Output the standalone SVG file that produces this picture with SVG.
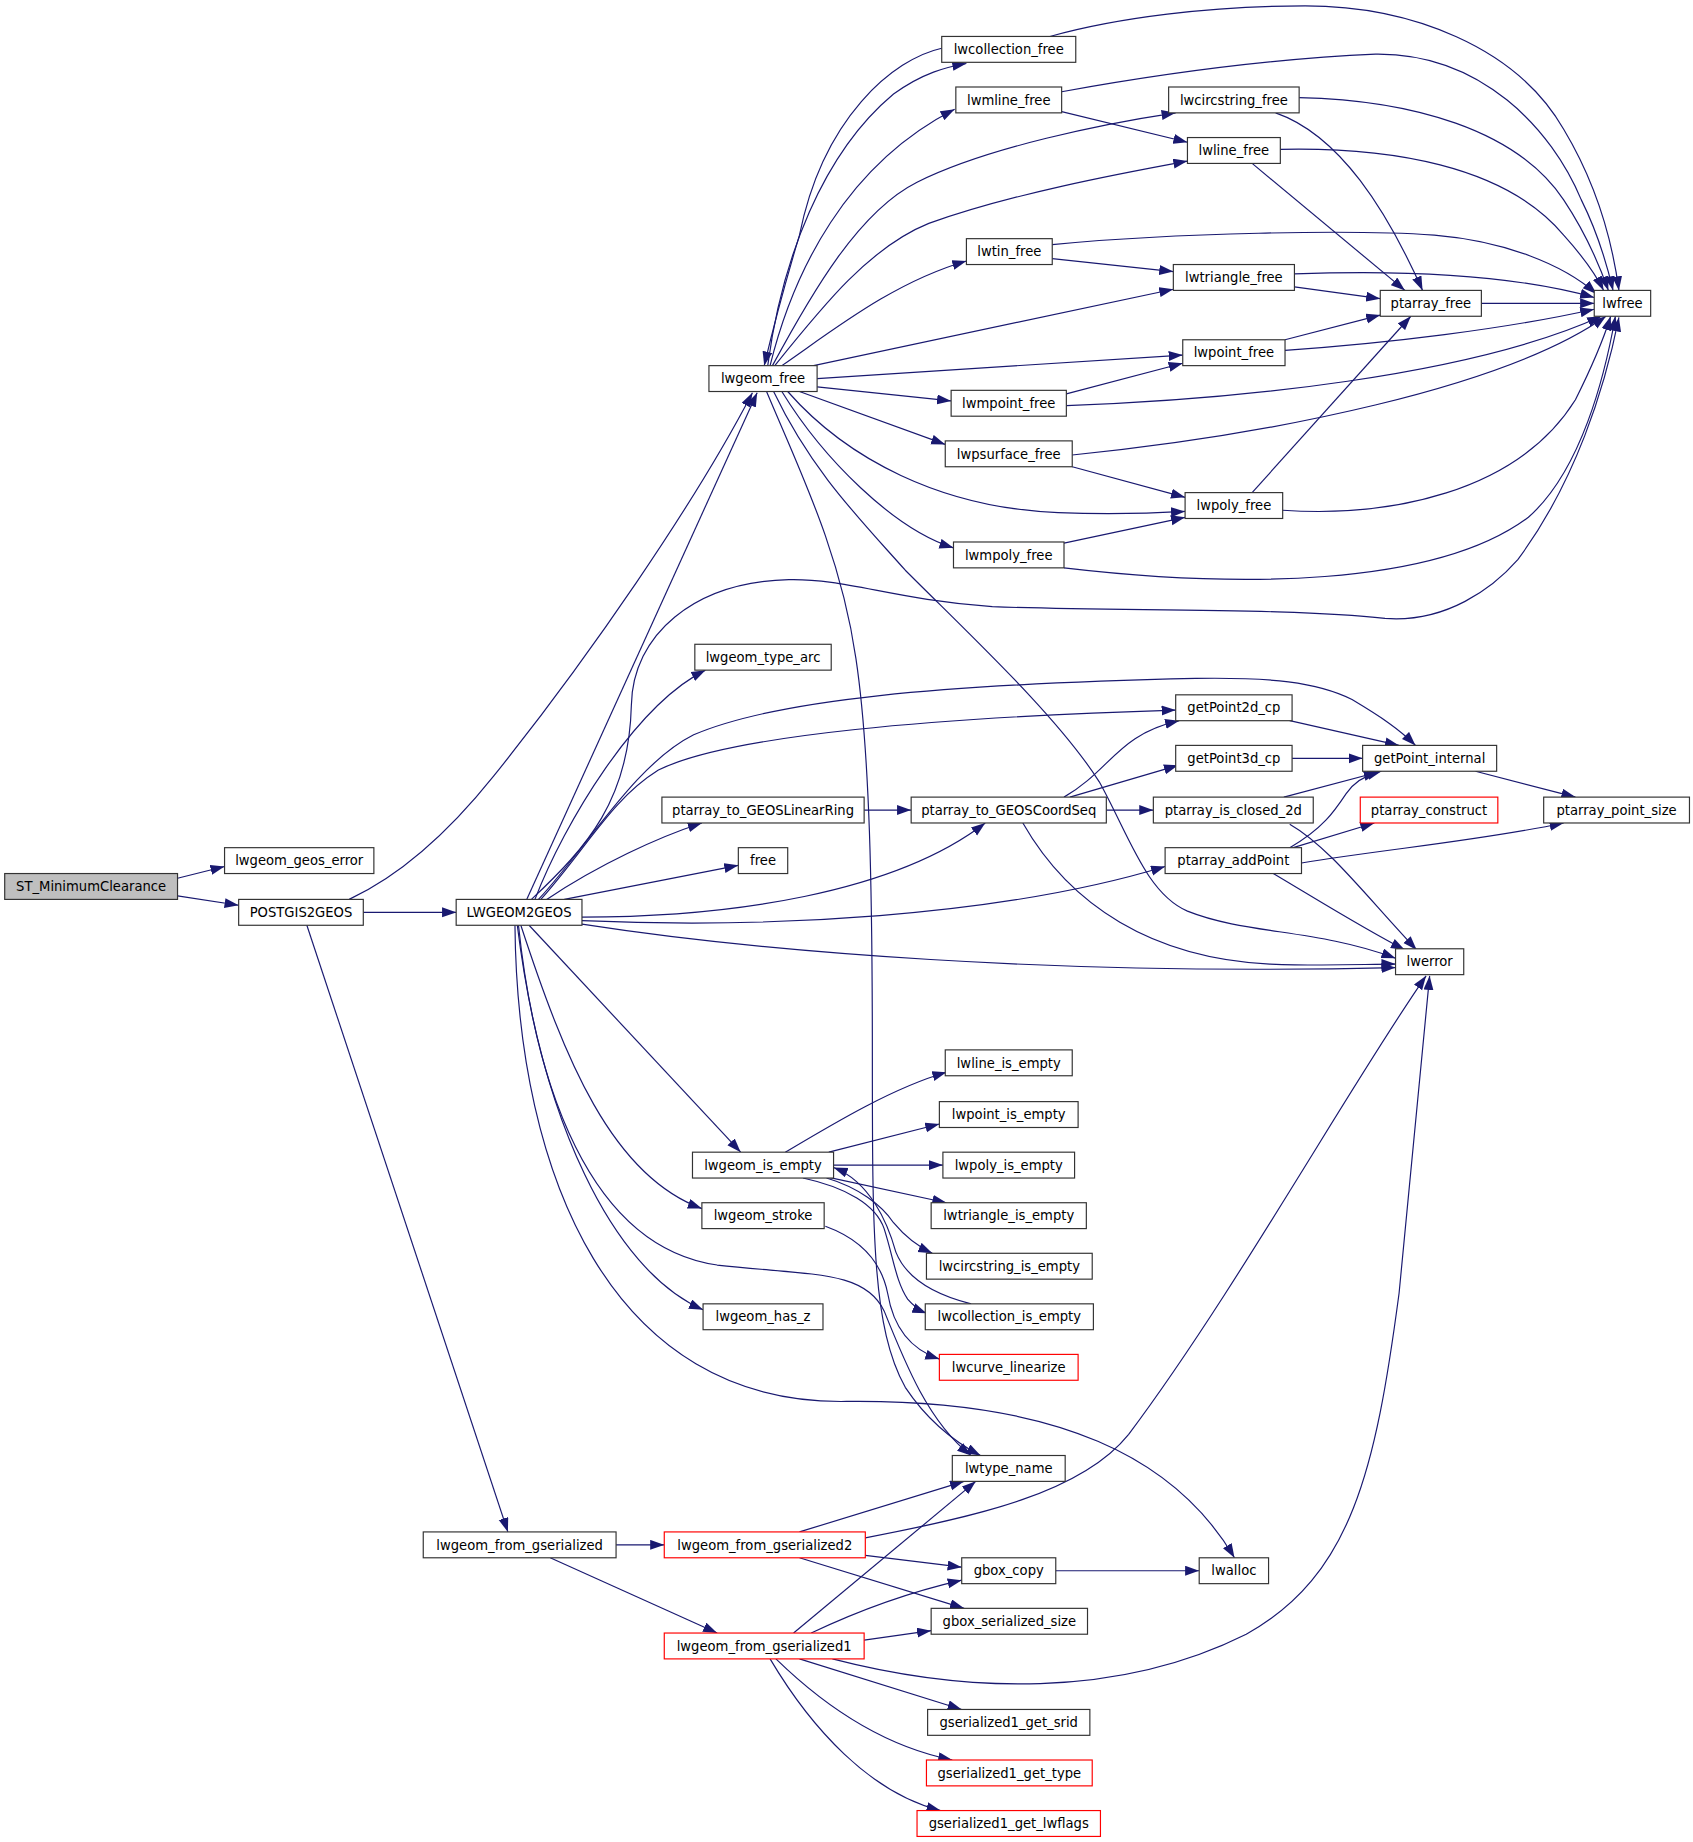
<svg xmlns="http://www.w3.org/2000/svg" width="1693" height="1842" viewBox="0 0 1693 1842">
<style>
.n rect{fill:#fff;stroke:#333;stroke-width:1}
.n.r rect{stroke:#ff0000}
.n.g rect{fill:#bfbfbf}
.n text{font-family:"DejaVu Sans","Liberation Sans",sans-serif;font-size:11.2px;text-anchor:middle;fill:#000}
.e path{fill:none;stroke:#191970;stroke-width:1;marker-end:url(#a)}
</style>
<defs>
<marker id="a" markerUnits="userSpaceOnUse" markerWidth="12" markerHeight="9" refX="12" refY="4.25" orient="auto">
<path d="M0,0 L12,4.25 L0,8.5 z" fill="#191970"/>
</marker>
</defs>
<rect width="1693" height="1842" fill="#fff"/>
<g transform="scale(1.17569)">
<g id="edges" class="e">
<path d="M151,747 L191,737"/>
<path d="M151,762 L203,770"/>
<path d="M297,765 C340,745 380,710 420,660 C500,560 590,430 640,334"/>
<path d="M309,776 L388,776"/>
<path d="M261,787 L432,1303"/>
<path d="M448,765 L644,334"/>
<path d="M452,765 C500,720 535,680 537,600 C538,540 590,495 671,493 C720,492 760,510 844,516 C950,520 1100,517 1178,526 C1230,530 1270,500 1291,476 C1340,410 1365,330 1377,270"/>
<path d="M455,765 C480,700 540,600 600,570"/>
<path d="M458,765 C500,720 540,650 590,625 C660,595 800,582 1017,577 C1080,576 1120,580 1150,595 C1175,610 1190,620 1204,634"/>
<path d="M460,765 C500,720 520,680 560,655 C620,625 800,610 1000,604"/>
<path d="M465,765 C510,735 560,712 597,700"/>
<path d="M480,765 L628,736"/>
<path d="M495,780 C620,780 760,760 838,700"/>
<path d="M495,783 C650,790 850,780 991,737"/>
<path d="M495,786 C650,810 900,830 1187,823"/>
<path d="M450,787 L630,980"/>
<path d="M443,787 C480,900 520,1000 597,1028"/>
<path d="M440,787 C460,950 520,1080 598,1114"/>
<path d="M441,787 C455,920 500,1060 610,1076 C690,1085 735,1080 752,1115 C770,1160 790,1210 826,1238"/>
<path d="M438,787 C440,1000 520,1195 720,1192 C900,1190 1000,1240 1050,1325"/>
<path d="M653,311 C665,220 700,130 760,80 C785,62 805,57 822,54"/>
<path d="M801,41 C760,50 700,100 680,200 C665,250 655,290 650,311"/>
<path d="M655,311 C675,230 720,140 812,93"/>
<path d="M657,311 C690,250 730,180 780,155 C840,125 940,105 1000,96"/>
<path d="M659,311 C700,260 740,210 790,190 C860,165 950,148 1010,137"/>
<path d="M665,311 C710,280 760,240 822,222"/>
<path d="M692,311 L998,246"/>
<path d="M695,322 L1006,302"/>
<path d="M695,329 L809,341"/>
<path d="M680,333 L804,378"/>
<path d="M670,333 C720,390 800,432 900,436 C950,438 990,436 1008,435"/>
<path d="M665,333 C700,390 760,450 811,466"/>
<path d="M652,333 C680,400 715,470 728,560 C740,640 742,760 742,900 C742,1050 742,1130 770,1180 C790,1210 815,1228 834,1238"/>
<path d="M658,333 C690,400 730,440 770,485 C830,545 900,610 935,665 C960,710 975,760 1010,775 C1060,795 1120,790 1187,815"/>
<path d="M893,31 C950,15 1030,5 1110,5 C1200,5 1290,40 1330,110 C1360,160 1372,210 1377,247"/>
<path d="M903,95 L1010,121"/>
<path d="M903,78 C980,64 1080,50 1170,46 C1260,45 1320,110 1345,170 C1360,200 1368,230 1372,247"/>
<path d="M1105,83 C1200,85 1290,110 1330,170 C1350,200 1362,230 1368,247"/>
<path d="M1085,96 C1140,115 1180,180 1210,247"/>
<path d="M1089,127 C1180,125 1280,140 1330,200 C1348,220 1358,235 1364,247"/>
<path d="M1065,139 L1195,247"/>
<path d="M895,220 L998,231"/>
<path d="M895,208 C1000,198 1150,195 1220,200 C1280,205 1330,225 1358,250"/>
<path d="M1101,244 L1174,254"/>
<path d="M1101,233 C1180,230 1280,232 1356,253"/>
<path d="M1260,258 L1356,258"/>
<path d="M1093,289 L1174,268"/>
<path d="M1093,298 C1180,292 1280,280 1356,263"/>
<path d="M907,335 L1006,309"/>
<path d="M907,345 C1050,340 1250,320 1362,269"/>
<path d="M912,397 L1008,423"/>
<path d="M912,387 C1080,370 1280,330 1366,269"/>
<path d="M1065,419 L1200,269"/>
<path d="M1091,434 C1180,440 1290,420 1340,340 C1355,310 1365,285 1370,269"/>
<path d="M905,462 L1008,440"/>
<path d="M905,483 C1050,500 1220,500 1300,440 C1345,400 1365,320 1374,269"/>
<path d="M1097,613 L1190,634"/>
<path d="M1099,645 L1159,645"/>
<path d="M1255,656 L1340,678"/>
<path d="M735,689 L775,689"/>
<path d="M905,678 C945,655 950,625 1003,613"/>
<path d="M910,678 L1002,651"/>
<path d="M941,689 L981,689"/>
<path d="M870,700 C910,770 980,815 1080,820 C1130,822 1160,820 1187,820"/>
<path d="M1092,678 L1175,656"/>
<path d="M1097,701 C1130,720 1160,760 1205,808"/>
<path d="M1097,721 C1125,705 1135,690 1145,675 C1152,665 1160,660 1172,657"/>
<path d="M1100,721 L1169,700"/>
<path d="M1107,734 C1180,722 1260,715 1330,700"/>
<path d="M1083,743 C1120,765 1160,790 1195,808"/>
<path d="M668,980 C710,955 760,925 805,912"/>
<path d="M705,980 L799,956"/>
<path d="M709,991 L802,991"/>
<path d="M703,1001 L805,1023"/>
<path d="M703,1002 C730,1010 750,1025 760,1040 C770,1052 780,1060 793,1066"/>
<path d="M683,1002 C720,1010 745,1025 752,1045 C760,1070 762,1090 772,1105 C778,1112 783,1115 788,1117"/>
<path d="M826,1109 C790,1100 770,1085 762,1065 C755,1040 740,1005 709,993"/>
<path d="M702,1043 C735,1055 750,1075 755,1100 C760,1130 775,1148 799,1156"/>
<path d="M524,1314 L565,1314"/>
<path d="M468,1325 L610,1389"/>
<path d="M680,1303 L820,1260"/>
<path d="M736,1308 C830,1290 920,1270 960,1220 C1050,1100 1150,920 1213,830"/>
<path d="M736,1323 L818,1333"/>
<path d="M680,1325 L820,1368"/>
<path d="M675,1389 L830,1260"/>
<path d="M690,1389 C730,1370 770,1355 818,1344"/>
<path d="M735,1395 L792,1387"/>
<path d="M708,1411 C820,1440 950,1445 1060,1390 C1150,1340 1170,1250 1190,1100 C1200,1000 1210,900 1216,830"/>
<path d="M680,1411 L818,1454"/>
<path d="M660,1411 C700,1450 750,1485 810,1497"/>
<path d="M655,1411 C690,1470 740,1525 800,1540"/>
<path d="M898,1336 L1020,1336"/>
</g>
<g id="n_ST_MinimumClearance" class="n g"><rect x="4" y="743" width="147" height="22"/><text x="77.5" y="758">ST_MinimumClearance</text></g>
<g id="n_lwgeom_geos_error" class="n"><rect x="191" y="721" width="127" height="22"/><text x="254.5" y="736">lwgeom_geos_error</text></g>
<g id="n_POSTGIS2GEOS" class="n"><rect x="203" y="765" width="106" height="22"/><text x="256" y="780">POSTGIS2GEOS</text></g>
<g id="n_LWGEOM2GEOS" class="n"><rect x="388" y="765" width="107" height="22"/><text x="441.5" y="780">LWGEOM2GEOS</text></g>
<g id="n_lwgeom_free" class="n"><rect x="603" y="311" width="92" height="22"/><text x="649" y="326">lwgeom_free</text></g>
<g id="n_lwcollection_free" class="n"><rect x="801" y="31" width="114" height="22"/><text x="858" y="46">lwcollection_free</text></g>
<g id="n_lwmline_free" class="n"><rect x="813" y="74" width="90" height="22"/><text x="858" y="89">lwmline_free</text></g>
<g id="n_lwcircstring_free" class="n"><rect x="994" y="74" width="111" height="22"/><text x="1049.5" y="89">lwcircstring_free</text></g>
<g id="n_lwline_free" class="n"><rect x="1010" y="117" width="79" height="22"/><text x="1049.5" y="132">lwline_free</text></g>
<g id="n_lwtin_free" class="n"><rect x="822" y="203" width="73" height="22"/><text x="858.5" y="218">lwtin_free</text></g>
<g id="n_lwtriangle_free" class="n"><rect x="998" y="225" width="103" height="22"/><text x="1049.5" y="240">lwtriangle_free</text></g>
<g id="n_ptarray_free" class="n"><rect x="1174" y="247" width="86" height="22"/><text x="1217" y="262">ptarray_free</text></g>
<g id="n_lwfree" class="n"><rect x="1356" y="247" width="48" height="22"/><text x="1380" y="262">lwfree</text></g>
<g id="n_lwpoint_free" class="n"><rect x="1006" y="289" width="87" height="22"/><text x="1049.5" y="304">lwpoint_free</text></g>
<g id="n_lwmpoint_free" class="n"><rect x="809" y="332" width="98" height="22"/><text x="858" y="347">lwmpoint_free</text></g>
<g id="n_lwpsurface_free" class="n"><rect x="804" y="375" width="108" height="22"/><text x="858" y="390">lwpsurface_free</text></g>
<g id="n_lwpoly_free" class="n"><rect x="1008" y="419" width="83" height="22"/><text x="1049.5" y="434">lwpoly_free</text></g>
<g id="n_lwmpoly_free" class="n"><rect x="811" y="461" width="94" height="22"/><text x="858" y="476">lwmpoly_free</text></g>
<g id="n_lwgeom_type_arc" class="n"><rect x="591" y="548" width="116" height="22"/><text x="649" y="563">lwgeom_type_arc</text></g>
<g id="n_getPoint2d_cp" class="n"><rect x="1000" y="591" width="99" height="22"/><text x="1049.5" y="606">getPoint2d_cp</text></g>
<g id="n_getPoint3d_cp" class="n"><rect x="1000" y="634" width="99" height="22"/><text x="1049.5" y="649">getPoint3d_cp</text></g>
<g id="n_getPoint_internal" class="n"><rect x="1159" y="634" width="114" height="22"/><text x="1216" y="649">getPoint_internal</text></g>
<g id="n_ptarray_point_size" class="n"><rect x="1313" y="678" width="124" height="22"/><text x="1375" y="693">ptarray_point_size</text></g>
<g id="n_ptarray_to_GEOSLinearRing" class="n"><rect x="563" y="678" width="172" height="22"/><text x="649" y="693">ptarray_to_GEOSLinearRing</text></g>
<g id="n_ptarray_to_GEOSCoordSeq" class="n"><rect x="775" y="678" width="166" height="22"/><text x="858" y="693">ptarray_to_GEOSCoordSeq</text></g>
<g id="n_ptarray_is_closed_2d" class="n"><rect x="981" y="678" width="136" height="22"/><text x="1049" y="693">ptarray_is_closed_2d</text></g>
<g id="n_ptarray_construct" class="n r"><rect x="1157" y="678" width="117" height="22"/><text x="1215.5" y="693">ptarray_construct</text></g>
<g id="n_free" class="n"><rect x="628" y="721" width="42" height="22"/><text x="649" y="736">free</text></g>
<g id="n_ptarray_addPoint" class="n"><rect x="991" y="721" width="116" height="22"/><text x="1049" y="736">ptarray_addPoint</text></g>
<g id="n_lwerror" class="n"><rect x="1187" y="807" width="58" height="22"/><text x="1216" y="822">lwerror</text></g>
<g id="n_lwline_is_empty" class="n"><rect x="804" y="893" width="108" height="22"/><text x="858" y="908">lwline_is_empty</text></g>
<g id="n_lwpoint_is_empty" class="n"><rect x="799" y="937" width="118" height="22"/><text x="858" y="952">lwpoint_is_empty</text></g>
<g id="n_lwgeom_is_empty" class="n"><rect x="589" y="980" width="120" height="22"/><text x="649" y="995">lwgeom_is_empty</text></g>
<g id="n_lwpoly_is_empty" class="n"><rect x="802" y="980" width="112" height="22"/><text x="858" y="995">lwpoly_is_empty</text></g>
<g id="n_lwtriangle_is_empty" class="n"><rect x="792" y="1023" width="132" height="22"/><text x="858" y="1038">lwtriangle_is_empty</text></g>
<g id="n_lwgeom_stroke" class="n"><rect x="597" y="1023" width="104" height="22"/><text x="649" y="1038">lwgeom_stroke</text></g>
<g id="n_lwcircstring_is_empty" class="n"><rect x="788" y="1066" width="141" height="22"/><text x="858.5" y="1081">lwcircstring_is_empty</text></g>
<g id="n_lwcollection_is_empty" class="n"><rect x="787" y="1109" width="143" height="22"/><text x="858.5" y="1124">lwcollection_is_empty</text></g>
<g id="n_lwgeom_has_z" class="n"><rect x="598" y="1109" width="102" height="22"/><text x="649" y="1124">lwgeom_has_z</text></g>
<g id="n_lwcurve_linearize" class="n r"><rect x="799" y="1152" width="118" height="22"/><text x="858" y="1167">lwcurve_linearize</text></g>
<g id="n_lwtype_name" class="n"><rect x="810" y="1238" width="96" height="22"/><text x="858" y="1253">lwtype_name</text></g>
<g id="n_lwgeom_from_gserialized" class="n"><rect x="360" y="1303" width="164" height="22"/><text x="442" y="1318">lwgeom_from_gserialized</text></g>
<g id="n_lwgeom_from_gserialized2" class="n r"><rect x="565" y="1303" width="171" height="22"/><text x="650.5" y="1318">lwgeom_from_gserialized2</text></g>
<g id="n_gbox_copy" class="n"><rect x="818" y="1325" width="80" height="22"/><text x="858" y="1340">gbox_copy</text></g>
<g id="n_lwalloc" class="n"><rect x="1020" y="1325" width="59" height="22"/><text x="1049.5" y="1340">lwalloc</text></g>
<g id="n_gbox_serialized_size" class="n"><rect x="792" y="1368" width="133" height="22"/><text x="858.5" y="1383">gbox_serialized_size</text></g>
<g id="n_lwgeom_from_gserialized1" class="n r"><rect x="565" y="1389" width="170" height="22"/><text x="650" y="1404">lwgeom_from_gserialized1</text></g>
<g id="n_gserialized1_get_srid" class="n"><rect x="789" y="1454" width="138" height="22"/><text x="858" y="1469">gserialized1_get_srid</text></g>
<g id="n_gserialized1_get_type" class="n r"><rect x="788" y="1497" width="141" height="22"/><text x="858.5" y="1512">gserialized1_get_type</text></g>
<g id="n_gserialized1_get_lwflags" class="n r"><rect x="780" y="1540" width="156" height="22"/><text x="858" y="1555">gserialized1_get_lwflags</text></g>
</g>
</svg>
